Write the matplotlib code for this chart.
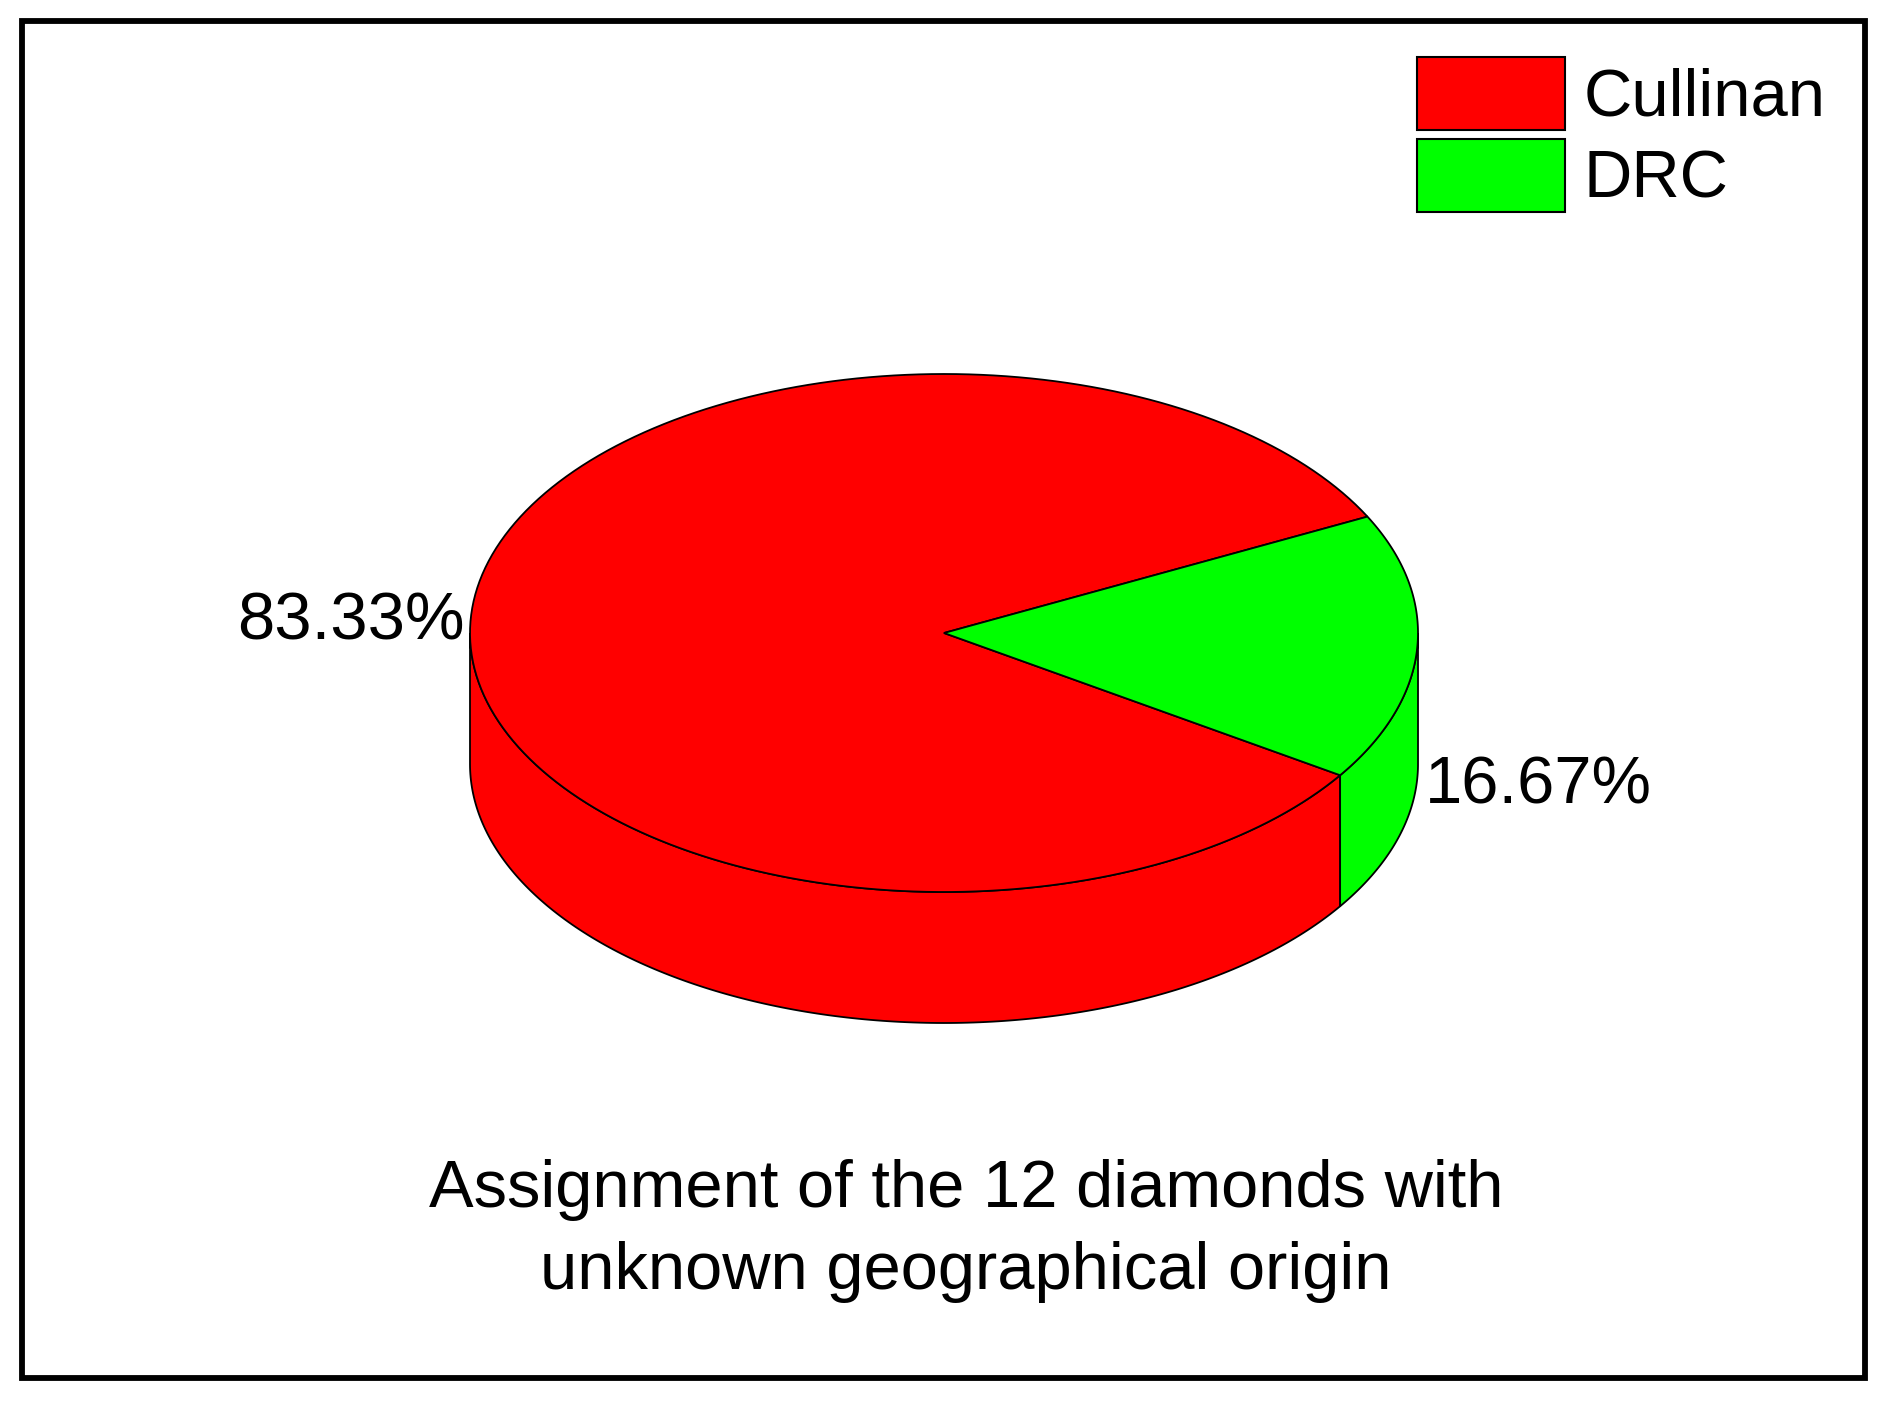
import matplotlib

matplotlib.use("Agg")
import matplotlib.pyplot as plt
import numpy as np
from matplotlib.patches import Patch, Rectangle

labels = ["Cullinan", "DRC"]
shares = [83.33, 16.67]
colors = ["#ff0000", "#00ff00"]
title_text = "Assignment of the 12 diamonds with\nunknown geographical origin"

plt.rcParams["font.family"] = ["Liberation Sans", "DejaVu Sans"]

W, H = 1889, 1401
cx, cy = 944, 633
rx, ry = 474, 259
depth = 131
start = 26.7
fs = 48.2


def rim(a0, a1, n=200):
    # points on the top ellipse, angles in degrees
    t = np.radians(np.linspace(a0, a1, n))
    return cx + rx * np.cos(t), cy - ry * np.sin(t)


fig = plt.figure(figsize=(W / 100, H / 100), dpi=100)
ax = fig.add_axes([0, 0, 1, 1])
ax.set_xlim(0, W)
ax.set_ylim(H, 0)
ax.axis("off")
ax.add_patch(Rectangle((22, 21), 1843, 1357, fill=False, ec="black", lw=4.2))

# slice angles come from the shares, red runs counter clockwise from the start
a_red0 = start
a_red1 = start + 360 * shares[0] / 100
a_green1 = start + 360

# side walls, only the front half shows
for a0, a1, c in [(180, a_red1, colors[0]), (a_red1, 360, colors[1])]:
    x, y = rim(a0, a1)
    ax.fill(np.r_[x, x[::-1]], np.r_[y, y[::-1] + depth], fc=c, ec="black", lw=1.3, zorder=2)

# top face
for a0, a1, c in [(a_red0, a_red1, colors[0]), (a_red1, a_green1, colors[1])]:
    x, y = rim(a0, a1)
    ax.fill(np.r_[cx, x], np.r_[cy, y], fc=c, ec="black", lw=1.3, zorder=3)

ax.text(465, 622, f"{shares[0]:.2f}%", fontsize=fs, ha="right", va="center", zorder=4)
ax.text(1425, 786, f"{shares[1]:.2f}%", fontsize=fs, ha="left", va="center", zorder=4)
ax.text(966, 1231, title_text, fontsize=fs, ha="center", va="center", linespacing=1.4, zorder=4)

handles = [Patch(fc=c, ec="black", lw=1.5) for c in colors]
ax.legend(
    handles,
    labels,
    loc="upper left",
    bbox_to_anchor=(1417 / W, 1 - 57 / H),
    frameon=False,
    fontsize=fs,
    borderpad=0,
    borderaxespad=0,
    handlelength=2.21,
    handleheight=1.29,
    handletextpad=0.28,
    labelspacing=0.14,
)

fig.savefig("out.png", dpi=100, facecolor="white")
